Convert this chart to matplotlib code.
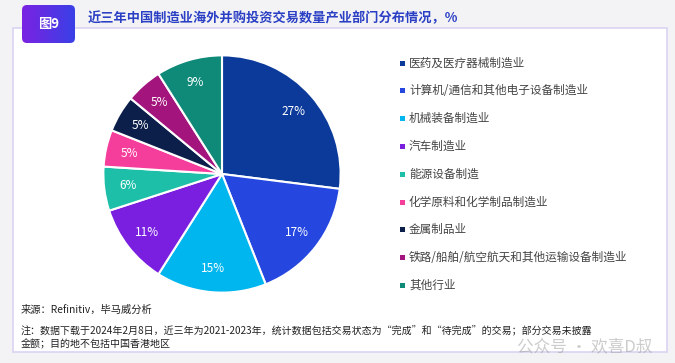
import matplotlib
matplotlib.use("Agg")
import matplotlib.pyplot as plt
import numpy as np
from matplotlib.patches import FancyBboxPatch, Rectangle
from matplotlib.colors import LinearSegmentedColormap

plt.rcParams['font.family'] = ['Noto Sans CJK SC', 'DejaVu Sans']

# data
sectors = ["医药及医疗器械制造业", "计算机/通信和其他电子设备制造业", "机械装备制造业",
           "汽车制造业", "能源设备制造", "化学原料和化学制品制造业", "金属制品业",
           "铁路/船舶/航空航天和其他运输设备制造业", "其他行业"]
shares = [27, 17, 15, 11, 6, 5, 5, 5, 9]
colors = ["#0b3a9a", "#2547e0", "#00b6ef", "#7a1fe0", "#1dbfa8",
          "#f53d9c", "#0c1f4a", "#a3157c", "#0f8a78"]

title = "近三年中国制造业海外并购投资交易数量产业部门分布情况，%"
source = "来源：Refinitiv，毕马威分析"
note = ("注：数据下载于2024年2月8日，近三年为2021-2023年，统计数据包括交易状态为“完成”和“待完成”的交易；部分交易未披露\n"
        "金额；目的地不包括中国香港地区")

W, H = 675, 363
fig = plt.figure(figsize=(W / 100, H / 100), dpi=100)
fig.patch.set_facecolor("#f3f3f6")

# full-figure axes in pixel coords for card, header, legend, footer
bg = fig.add_axes([0, 0, 1, 1])
bg.set_xlim(0, W)
bg.set_ylim(H, 0)
bg.axis("off")
bg.add_patch(Rectangle((13, 28), 654, 324, facecolor="white", edgecolor="#dcd3f3", lw=1.2))

# badge with gradient
grad = np.linspace(0, 1, 100).reshape(1, -1)
cmap = LinearSegmentedColormap.from_list("b", ["#7a22e2", "#3a40e6"])
badge = FancyBboxPatch((22, 5), 53, 38, boxstyle="round,pad=0,rounding_size=5",
                       facecolor="none", edgecolor="none")
bg.add_patch(badge)
im = bg.imshow(grad, extent=(22, 75, 43, 5), cmap=cmap, aspect="auto", zorder=2)
im.set_clip_path(badge)
bg.text(48.5, 24, "图9", color="white", fontsize=9.5, fontweight="bold",
        ha="center", va="center", zorder=3)
bg.text(88, 18, title, color="#2b3fc4", fontsize=9.5, fontweight="bold",
        ha="left", va="center")

# pie
ax = fig.add_axes([101 / W, 1 - 295 / H, 242 / W, 242 / H])
wedges, _, autotexts = ax.pie(shares, colors=colors, startangle=90, counterclock=False,
                              autopct="%d%%", pctdistance=0.8, radius=1,
                              wedgeprops=dict(edgecolor="white", linewidth=1.5),
                              textprops=dict(color="white", fontsize=8.5))
ax.set_xlim(-1.02, 1.02)
ax.set_ylim(-1.02, 1.02)
ax.set_aspect("equal")

# legend
y0, dy = 63, 27.8
for i, (name, c) in enumerate(zip(sectors, colors)):
    y = y0 + i * dy
    bg.add_patch(Rectangle((399.5, y - 2.5), 5, 5, facecolor=c, edgecolor="none"))
    bg.text(409, y, name, color="#444444", fontsize=8.4, ha="left", va="center")

# footer
bg.text(21, 310, source, color="#222222", fontsize=7.4, ha="left", va="center")
bg.text(21, 338, note, color="#222222", fontsize=7.2, ha="left", va="center",
        linespacing=1.3)

# watermark
bg.text(585, 347, "公众号 · 欢喜D叔", color="#9a9a9a", alpha=0.5, fontsize=12,
        ha="center", va="center")

fig.savefig("out.png", dpi=100, facecolor=fig.get_facecolor())
